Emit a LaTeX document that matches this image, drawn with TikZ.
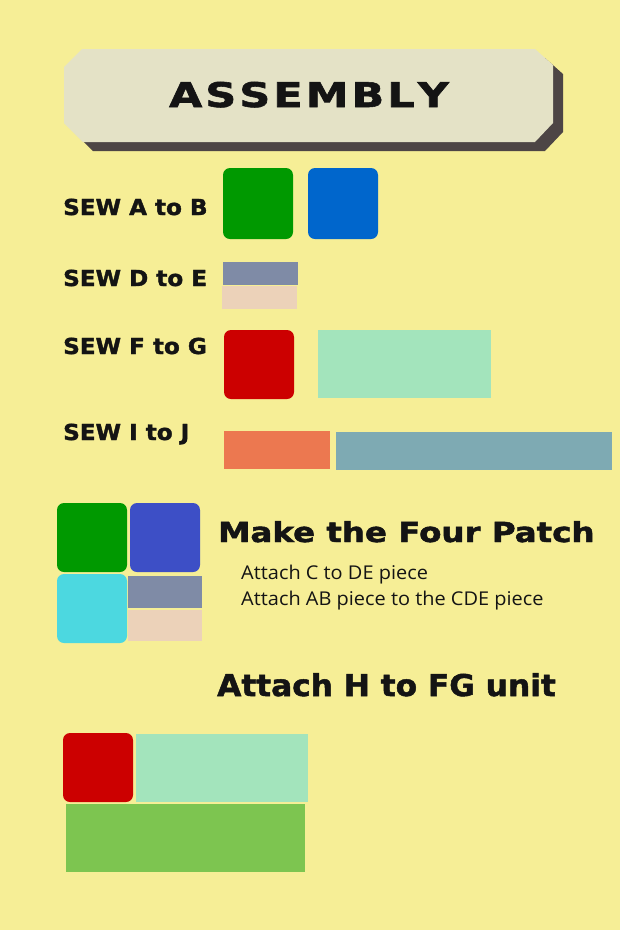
\documentclass[tikz,border=0pt]{standalone}
\usepackage{fontspec}
\usepackage{graphicx}
\setmainfont{DejaVu Sans}
\newfontfamily\heavy{DejaVu Sans}[BoldFeatures={FakeBold=1.6}]
\newfontfamily\bodyf{Open Sans}
\definecolor{bg}{HTML}{F6EE96}
\definecolor{banner}{HTML}{E4E2C6}
\definecolor{shadow}{HTML}{4D4545}
\definecolor{ink}{HTML}{141414}
\definecolor{cgreen}{HTML}{009900}
\definecolor{cblue}{HTML}{0066CC}
\definecolor{cgray}{HTML}{7F8BA6}
\definecolor{cpeach}{HTML}{ECD2B9}
\definecolor{cred}{HTML}{CC0000}
\definecolor{cmint}{HTML}{A3E4BC}
\definecolor{corange}{HTML}{EC7850}
\definecolor{cteal}{HTML}{7EAAB3}
\definecolor{cindigo}{HTML}{3D4FC6}
\definecolor{ccyan}{HTML}{4CD8E0}
\definecolor{clime}{HTML}{7DC550}
\newcommand\piece[7]{\node[#2,fill=#3,minimum width={(#6-#4)*1pt},minimum height={(#7-#5)*1pt}] (#1) at (#4,#5) {};}
\begin{document}
\begin{tikzpicture}[x=1pt,y=-1pt,
  sq/.style={rounded corners=7pt,inner sep=0pt,outer sep=0pt,anchor=north west,draw=none},
  rc/.style={inner sep=0pt,outer sep=0pt,anchor=north west,draw=none},
  lab/.style={anchor=base west,inner sep=0pt,text=ink,font=\heavy\bfseries\fontsize{22}{26}\selectfont},
  head/.style={anchor=base west,inner sep=0pt,text=ink,font=\heavy\bfseries\fontsize{#1}{#1}\selectfont},
  body/.style={anchor=base west,inner sep=0pt,text=ink,font=\bodyf\fontsize{19}{22}\selectfont}]
\useasboundingbox (0,0) rectangle (620,930);
\fill[bg] (0,0) rectangle (620,930);
% banner
\fill[shadow] (92,58) -- (545,58) -- (563,74) -- (563,132) -- (545,151) -- (93,151) -- (74,132) -- (74,76) -- cycle;
\fill[banner] (82,49) -- (535,49) -- (553,65) -- (553,123) -- (535,142) -- (83,142) -- (64,123) -- (64,67) -- cycle;
\node[anchor=base,inner sep=0pt,text=ink,font=\heavy\bfseries\fontsize{34}{34}\selectfont] (title) at (309,107)
  {\scalebox{1.26}[1]{A\kern2.5pt S\kern2.5pt S\kern2.5pt E\kern2.5pt M\kern2.5pt B\kern2.5pt L\kern2.5pt Y}};
% step labels
\node[lab] (l1) at (63,215) {\scalebox{1.05}[1]{SEW A to B}};
\node[lab] (l2) at (63,286) {\scalebox{1.05}[1]{SEW D to E}};
\node[lab] (l3) at (63,354) {\scalebox{1.05}[1]{SEW F to G}};
\node[lab] (l4) at (63,440) {\scalebox{1.05}[1]{SEW I to J}};
% pieces
\piece{pa}{sq}{cgreen}{223}{168}{293}{239}
\piece{pb}{sq}{cblue}{308}{168}{378}{239}
\piece{pd}{rc}{cgray}{223}{262}{298}{285}
\piece{pe}{rc}{cpeach}{222}{286}{297}{309}
\piece{pf}{sq}{cred}{224}{330}{294}{399}
\piece{pg}{rc}{cmint}{318}{330}{491}{398}
\piece{pi}{rc}{corange}{224}{431}{330}{469}
\piece{pj}{rc}{cteal}{336}{432}{612}{470}
% four patch
\piece{qa}{sq}{cgreen}{57}{503}{127}{572}
\piece{qb}{sq}{cindigo}{130}{503}{200}{572}
\piece{qc}{sq}{ccyan}{57}{574}{127}{643}
\piece{qd}{rc}{cgray}{128}{576}{202}{608}
\piece{qe}{rc}{cpeach}{128}{610}{202}{641}
\node[head=27.5] (h1) at (218,542) {\scalebox{1.18}[1]{Make the Four Patch}};
\node[body] (t1) at (241,579) {\scalebox{1.05}[1]{Attach C to DE piece}};
\node[body] (t2) at (241,605) {\scalebox{1.05}[1]{Attach AB piece to the CDE piece}};
% FG + H
\node[head=30] (h2) at (217,696) {\scalebox{1.04}[1]{Attach H to FG unit}};
\piece{rf}{sq}{cred}{63}{733}{133}{802}
\piece{rg}{rc}{cmint}{136}{734}{308}{802}
\piece{rh}{rc}{clime}{66}{804}{305}{872}
\end{tikzpicture}
\end{document}
